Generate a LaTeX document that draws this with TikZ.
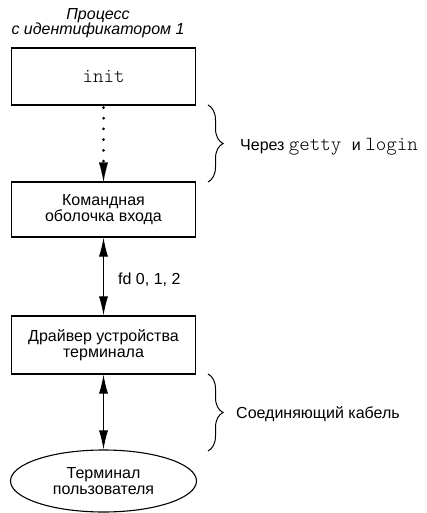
\documentclass[tikz,border=0pt]{standalone}
\usepackage{fontspec}
\setmainfont{Liberation Sans}
\setmonofont{Latin Modern Mono Light}
\usetikzlibrary{arrows.meta,decorations.pathreplacing,shapes.geometric}
\begin{document}
\begin{tikzpicture}[x=1pt,y=-1pt,
  txt/.style={font=\fontsize{16}{16}\selectfont},
  box/.style={txt, draw, line width=1.1pt, minimum width=183.5pt, inner sep=0pt, align=center},
  term/.style={txt, draw, ellipse, line width=1.1pt, minimum width=186pt, minimum height=62pt, inner sep=0pt, align=center},
  lbl/.style={txt, anchor=base west, inner sep=0pt},
  dotarrow/.style={line width=3pt, line cap=round, dash pattern=on 0pt off 10.7pt, dash phase=8.7pt, -{Latex[length=19pt,width=9pt,line width=0.1pt]}},
  dblarrow/.style={line width=1pt, {Latex[length=19pt,width=9pt]}-{Latex[length=19pt,width=9pt]}},
  bracestyle/.style={line width=1pt, decorate, decoration={brace, amplitude=15pt, aspect=0.5}}]
\useasboundingbox (0,0) rectangle (427,513);

\node[font=\fontsize{16}{15}\selectfont\itshape, align=center, inner sep=0pt] (pid) at (98,23) {Процесс\\с идентификатором 1};
\node[box, minimum height=57pt] (init) at (103.5,76.5) {\fontsize{20}{20}\selectfont\ttfamily init};
\node[box, minimum height=55pt] (shell) at (103.5,209.5) {Командная\\оболочка входа};
\node[box, minimum height=58pt] (drv) at (103.5,345) {Драйвер устройства\\терминала};
\node[term] (user) at (103.5,481) {Терминал\\пользователя};

\draw[dotarrow] (init) -- (shell);
\draw[dblarrow] (shell) -- (drv);
\draw[dblarrow] (drv) -- (user);

\coordinate (b1t) at (208,105);
\coordinate (b1b) at (208,182);
\coordinate (b2t) at (208,374);
\coordinate (b2b) at (208,451);
\draw[bracestyle] (b1t) -- (b1b);
\draw[bracestyle] (b2t) -- (b2b);

\node[lbl] (via) at (240,150) {Через \texttt{\fontsize{20}{20}\selectfont getty }и \texttt{\fontsize{20}{20}\selectfont login}};
\node[lbl] (fd) at (118,284.5) {fd 0, 1, 2};
\node[lbl] (cable) at (236,418.5) {Соединяющий кабель};
\end{tikzpicture}
\end{document}
